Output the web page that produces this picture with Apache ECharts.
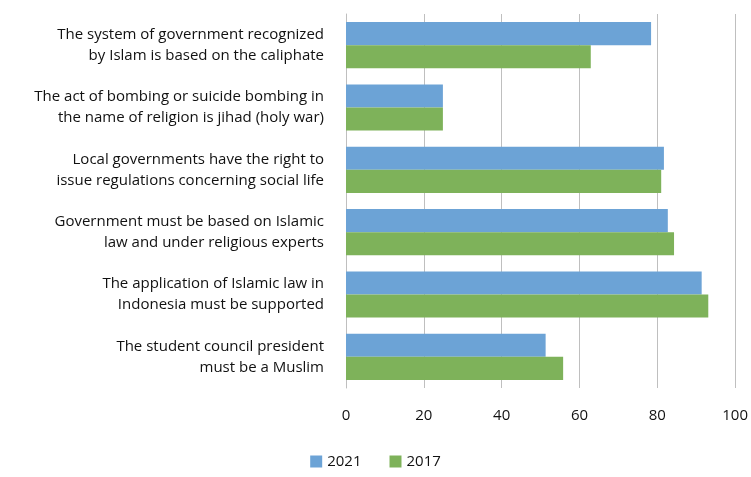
<!DOCTYPE html>
<html>
<head>
<meta charset="utf-8">
<script src="https://cdn.jsdelivr.net/npm/echarts@6/dist/echarts.min.js"></script>
<style>
  html, body { margin: 0; padding: 0; background: #fff; }
  #chart { width: 751px; height: 477px; }
</style>
</head>
<body>
<div id="chart"></div>
<script>
// categories, top to bottom
const statements = [
  'The system of government recognized\nby Islam is based on the caliphate',
  'The act of bombing or suicide bombing in\nthe name of religion is jihad (holy war)',
  'Local governments have the right to\nissue regulations concerning social life',
  'Government must be based on Islamic\nlaw and under religious experts',
  'The application of Islamic law in\nIndonesia must be supported',
  'The student council president\nmust be a Muslim'
]
const values2021 = [78.4, 24.9, 81.7, 82.7, 91.4, 51.3]
const values2017 = [62.9, 24.9, 81.0, 84.3, 93.1, 55.8]

const font = 'Open Sans'

const chart = echarts.init(document.getElementById('chart'))

const option = {
  animation: false,
  textStyle: { fontFamily: font },
  legend: {
    bottom: 3,
    left: 'center',
    itemWidth: 12,
    itemHeight: 12,
    itemGap: 28,
    icon: 'rect',
    textStyle: { fontFamily: font, fontSize: 15, color: '#111' },
    data: ['2021', '2017']
  },
  grid: { left: 346, right: 11, top: 14, bottom: 89, containLabel: false },
  xAxis: {
    type: 'value',
    min: 0,
    max: 100,
    interval: 20,
    axisLine: { show: false },
    axisTick: { show: false },
    axisLabel: { fontFamily: font, fontSize: 15, color: '#111', margin: 20 },
    splitLine: { lineStyle: { color: '#bfbfbf', width: 1 } }
  },
  yAxis: {
    type: 'category',
    inverse: true,
    data: statements,
    axisTick: { show: false },
    axisLine: { lineStyle: { color: '#bfbfbf' } },
    axisLabel: {
      fontFamily: font,
      fontSize: 15,
      color: '#111',
      lineHeight: 21,
      margin: 22,
      align: 'right'
    }
  },
  series: [
    {
      name: '2021',
      type: 'bar',
      data: values2021,
      barGap: '0%',
      barCategoryGap: '26%',
      itemStyle: { color: '#6ca3d6' }
    },
    {
      name: '2017',
      type: 'bar',
      data: values2017,
      itemStyle: { color: '#7eb25a' }
    }
  ]
}

chart.setOption(option)
</script>
</body>
</html>
